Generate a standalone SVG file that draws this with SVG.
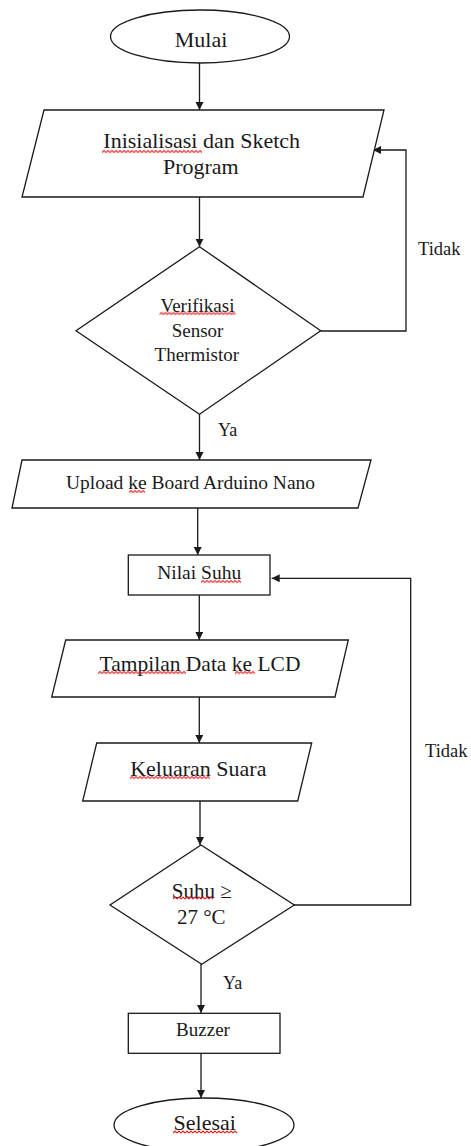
<svg xmlns="http://www.w3.org/2000/svg" width="471" height="1146" viewBox="0 0 471 1146">
<style>
.s{fill:#fff;stroke:#1a1a1a;stroke-width:1.3}
.c{fill:none;stroke:#1a1a1a;stroke-width:1.3}
text{font-family:"Liberation Serif","Times New Roman",serif;fill:#1a1a1a}
.m{text-anchor:middle}
</style>
<defs>
<marker id="ah" markerUnits="userSpaceOnUse" markerWidth="9" markerHeight="9" refX="8" refY="4" orient="auto">
<path d="M0,0 L8,4 L0,8 z" fill="#1a1a1a"/>
</marker>
<pattern id="sq" patternUnits="userSpaceOnUse" width="4" height="4">
<path d="M0 3 L2 1 L4 3" fill="none" stroke="#e02020" stroke-width="1.1"/>
</pattern>
</defs>
<rect width="471" height="1146" fill="#fff"/>
<g id="connectors">
<path class="c" d="M199.5 63 V110" marker-end="url(#ah)"/>
<path class="c" d="M199.5 197 V246.7" marker-end="url(#ah)"/>
<path class="c" d="M199.5 414 V460" marker-end="url(#ah)"/>
<path class="c" d="M321 331 H406 V150 H373" marker-end="url(#ah)"/>
<path class="c" d="M197.7 508 V555" marker-end="url(#ah)"/>
<path class="c" d="M199.3 595 V640" marker-end="url(#ah)"/>
<path class="c" d="M199.3 697 V743" marker-end="url(#ah)"/>
<path class="c" d="M200 801 V845" marker-end="url(#ah)"/>
<path class="c" d="M294 905 H410.7 V578.3 H271.7" marker-end="url(#ah)"/>
<path class="c" d="M201 964 V1013" marker-end="url(#ah)"/>
<path class="c" d="M201 1053 V1098" marker-end="url(#ah)"/>
<text x="418" y="255" font-size="18.5">Tidak</text>
<text x="218" y="435.7" font-size="18">Ya</text>
<text x="425" y="756.7" font-size="18.5">Tidak</text>
<text x="223" y="989" font-size="18">Ya</text>
</g>
<g id="mulai">
<ellipse class="s" cx="200" cy="36.5" rx="89.5" ry="26.5"/>
<text class="m" x="201" y="46.5" font-size="22">Mulai</text>
</g>
<g id="inisialisasi">
<polygon class="s" points="44,110 384,110 363,197 22,197"/>
<text class="m" x="201.7" y="148.3" font-size="22">Inisialisasi dan Sketch</text>
<text class="m" x="200.8" y="174" font-size="22">Program</text>
<rect x="0" y="0" width="100" height="4" fill="url(#sq)" transform="translate(102,149.5)"/>
</g>
<g id="verifikasi">
<polygon class="s" points="199.5,246.7 320.7,330.7 199.5,414.3 76,330.7"/>
<text class="m" x="197.5" y="311.7" font-size="19">Verifikasi</text>
<text class="m" x="197.5" y="337.3" font-size="19">Sensor</text>
<text class="m" x="196.8" y="360.7" font-size="19">Thermistor</text>
<rect x="0" y="0" width="76" height="4" fill="url(#sq)" transform="translate(159.5,311.5)"/>
</g>
<g id="upload">
<polygon class="s" points="22,460 371,460 358,508 12,508"/>
<text class="m" x="190.5" y="489.3" font-size="19.5">Upload ke Board Arduino Nano</text>
<rect x="0" y="0" width="16" height="4" fill="url(#sq)" transform="translate(129,489.5)"/>
</g>
<g id="nilai-suhu">
<rect class="s" x="128.3" y="555" width="141.7" height="40"/>
<text class="m" x="199.2" y="579.3" font-size="19.5">Nilai Suhu</text>
<rect x="0" y="0" width="40" height="4" fill="url(#sq)" transform="translate(201,579.5)"/>
</g>
<g id="tampilan">
<polygon class="s" points="65.7,640 348.3,640 335,697 51.7,697"/>
<text class="m" x="200" y="670.5" font-size="21.5">Tampilan Data ke LCD</text>
<rect x="0" y="0" width="88" height="4" fill="url(#sq)" transform="translate(98,670.5)"/>
<rect x="0" y="0" width="20" height="4" fill="url(#sq)" transform="translate(235,670.5)"/>
</g>
<g id="keluaran">
<polygon class="s" points="96.7,743 311.7,743 297.7,801 82.7,801"/>
<text class="m" x="198.3" y="775.5" font-size="22">Keluaran Suara</text>
<rect x="0" y="0" width="80" height="4" fill="url(#sq)" transform="translate(130,775.5)"/>
</g>
<g id="suhu-cek">
<polygon class="s" points="201,845 294.3,905 201.7,964.3 110,905"/>
<text class="m" x="201.7" y="898" font-size="21">Suhu ≥</text>
<text class="m" x="201.3" y="924" font-size="21">27 °C</text>
<rect x="0" y="0" width="40" height="4" fill="url(#sq)" transform="translate(173,896)"/>
</g>
<g id="buzzer">
<rect class="s" x="128.3" y="1013.3" width="151.7" height="40"/>
<text class="m" x="203" y="1036" font-size="19">Buzzer</text>
</g>
<g id="selesai">
<ellipse class="s" cx="204" cy="1125" rx="90" ry="27"/>
<text class="m" x="204.7" y="1130" font-size="22">Selesai</text>
<rect x="0" y="0" width="64" height="4" fill="url(#sq)" transform="translate(173,1130)"/>
</g>
</svg>
